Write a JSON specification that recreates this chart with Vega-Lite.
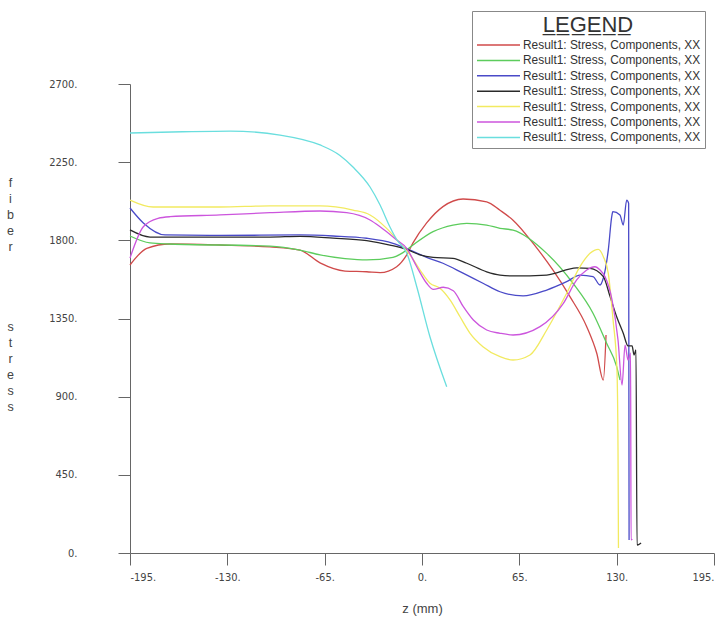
{
  "$schema": "https://vega.github.io/schema/vega-lite/v6.json",
  "width": 584,
  "height": 469,
  "autosize": {"type": "none"},
  "padding": {"left": 130, "top": 84, "right": 14, "bottom": 78},
  "background": "white",
  "config": {"view": {"stroke": null}, "font": "Liberation Sans"},
  "data": {"values": [
    {"series":"s1","z":-195,"stress":1658},{"series":"s1","z":-183.8,"stress":1754},{"series":"s1","z":-168.3,"stress":1779},{"series":"s1","z":-134.9,"stress":1773},{"series":"s1","z":-101.5,"stress":1762},{"series":"s1","z":-81.5,"stress":1744},{"series":"s1","z":-68.1,"stress":1670},{"series":"s1","z":-51.4,"stress":1623},{"series":"s1","z":-36.9,"stress":1619},{"series":"s1","z":-28,"stress":1614},{"series":"s1","z":-16.9,"stress":1648},{"series":"s1","z":-10.2,"stress":1716},{"series":"s1","z":-6,"stress":1785},{"series":"s1","z":3.1,"stress":1900},{"series":"s1","z":14,"stress":1994},{"series":"s1","z":27.4,"stress":2038},{"series":"s1","z":43.2,"stress":2022},{"series":"s1","z":52.1,"stress":1973},{"series":"s1","z":60.8,"stress":1916},{"series":"s1","z":74.1,"stress":1784},{"series":"s1","z":87.5,"stress":1628},{"series":"s1","z":98.8,"stress":1476},{"series":"s1","z":110,"stress":1303},{"series":"s1","z":116.7,"stress":1150},{"series":"s1","z":121.1,"stress":996},{"series":"s1","z":122.9,"stress":1255},
    {"series":"s2","z":-195,"stress":1825},{"series":"s2","z":-181.6,"stress":1785},{"series":"s2","z":-168.3,"stress":1779},{"series":"s2","z":-101.5,"stress":1767},{"series":"s2","z":-81.5,"stress":1744},{"series":"s2","z":-68.1,"stress":1716},{"series":"s2","z":-51.4,"stress":1695},{"series":"s2","z":-36.9,"stress":1687},{"series":"s2","z":-19.4,"stress":1702},{"series":"s2","z":-12.7,"stress":1729},{"series":"s2","z":-6,"stress":1773},{"series":"s2","z":7.4,"stress":1850},{"series":"s2","z":20.7,"stress":1888},{"series":"s2","z":29.9,"stress":1898},{"series":"s2","z":43.2,"stress":1888},{"series":"s2","z":52.1,"stress":1869},{"series":"s2","z":60.8,"stress":1859},{"series":"s2","z":83.3,"stress":1725},{"series":"s2","z":100.8,"stress":1553},{"series":"s2","z":114.2,"stress":1380},{"series":"s2","z":123.3,"stress":1207},{"series":"s2","z":130,"stress":1073},{"series":"s2","z":132.2,"stress":996},
    {"series":"s3","z":-195,"stress":1986},{"series":"s3","z":-186.1,"stress":1900},{"series":"s3","z":-171.6,"stress":1831},{"series":"s3","z":-134.9,"stress":1828},{"series":"s3","z":-81.5,"stress":1831},{"series":"s3","z":-59.4,"stress":1825},{"series":"s3","z":-36.9,"stress":1812},{"series":"s3","z":-19.4,"stress":1783},{"series":"s3","z":-8,"stress":1744},{"series":"s3","z":3.1,"stress":1702},{"series":"s3","z":14,"stress":1668},{"series":"s3","z":27.4,"stress":1611},{"series":"s3","z":40.7,"stress":1553},{"series":"s3","z":52.1,"stress":1504},{"series":"s3","z":67.5,"stress":1480},{"series":"s3","z":83.3,"stress":1514},{"series":"s3","z":96.6,"stress":1562},{"series":"s3","z":105.5,"stress":1600},{"series":"s3","z":114.2,"stress":1591},{"series":"s3","z":118.9,"stress":1543},{"series":"s3","z":121.1,"stress":1583},{"series":"s3","z":124.4,"stress":1744},{"series":"s3","z":126.7,"stress":1936},{"series":"s3","z":127.4,"stress":1965},{"series":"s3","z":132.2,"stress":1946},{"series":"s3","z":134.4,"stress":1888},{"series":"s3","z":136.7,"stress":2032},{"series":"s3","z":138,"stress":2013},{"series":"s3","z":138.3,"stress":75},
    {"series":"s4","z":-195,"stress":1860},{"series":"s4","z":-181.6,"stress":1819},{"series":"s4","z":-134.9,"stress":1819},{"series":"s4","z":-101.5,"stress":1819},{"series":"s4","z":-81.5,"stress":1823},{"series":"s4","z":-59.4,"stress":1813},{"series":"s4","z":-36.9,"stress":1798},{"series":"s4","z":-21.4,"stress":1773},{"series":"s4","z":-10.2,"stress":1748},{"series":"s4","z":-1.3,"stress":1716},{"series":"s4","z":7.4,"stress":1702},{"series":"s4","z":20.7,"stress":1696},{"series":"s4","z":29.9,"stress":1668},{"series":"s4","z":43.2,"stress":1619},{"series":"s4","z":52.1,"stress":1600},{"series":"s4","z":60.8,"stress":1595},{"series":"s4","z":83.3,"stress":1600},{"series":"s4","z":103.3,"stress":1642},{"series":"s4","z":112.2,"stress":1639},{"series":"s4","z":121.1,"stress":1591},{"series":"s4","z":125.6,"stress":1476},{"series":"s4","z":130,"stress":1360},{"series":"s4","z":134.4,"stress":1265},{"series":"s4","z":137.6,"stress":1192},{"series":"s4","z":140.3,"stress":1192},{"series":"s4","z":141.6,"stress":1140},{"series":"s4","z":142.9,"stress":1169},{"series":"s4","z":143.6,"stress":46},{"series":"s4","z":146.3,"stress":58},
    {"series":"s5","z":-195,"stress":2032},{"series":"s5","z":-179.6,"stress":1992},{"series":"s5","z":-134.9,"stress":1992},{"series":"s5","z":-101.5,"stress":1998},{"series":"s5","z":-68.1,"stress":1998},{"series":"s5","z":-46.1,"stress":1974},{"series":"s5","z":-34.7,"stress":1946},{"series":"s5","z":-23.6,"stress":1869},{"series":"s5","z":-14.7,"stress":1784},{"series":"s5","z":-8,"stress":1716},{"series":"s5","z":-1.3,"stress":1629},{"series":"s5","z":5.3,"stress":1553},{"series":"s5","z":12,"stress":1524},{"series":"s5","z":18.7,"stress":1457},{"series":"s5","z":25.4,"stress":1360},{"series":"s5","z":32.1,"stress":1265},{"series":"s5","z":40.7,"stress":1188},{"series":"s5","z":52.1,"stress":1130},{"series":"s5","z":60.8,"stress":1111},{"series":"s5","z":72.1,"stress":1140},{"series":"s5","z":83.3,"stress":1284},{"series":"s5","z":96.6,"stress":1495},{"series":"s5","z":105.5,"stress":1649},{"series":"s5","z":112.2,"stress":1725},{"series":"s5","z":117.7,"stress":1748},{"series":"s5","z":121.1,"stress":1706},{"series":"s5","z":124.4,"stress":1610},{"series":"s5","z":127.6,"stress":1341},{"series":"s5","z":130.2,"stress":1054},{"series":"s5","z":130.9,"stress":593},{"series":"s5","z":131.2,"stress":29},
    {"series":"s6","z":-195,"stress":1698},{"series":"s6","z":-186.1,"stress":1878},{"series":"s6","z":-176.3,"stress":1927},{"series":"s6","z":-168.3,"stress":1936},{"series":"s6","z":-134.9,"stress":1946},{"series":"s6","z":-101.5,"stress":1959},{"series":"s6","z":-68.1,"stress":1969},{"series":"s6","z":-50.3,"stress":1959},{"series":"s6","z":-34.7,"stress":1917},{"series":"s6","z":-28,"stress":1878},{"series":"s6","z":-16.9,"stress":1802},{"series":"s6","z":-10.2,"stress":1754},{"series":"s6","z":-3.5,"stress":1648},{"series":"s6","z":3.1,"stress":1553},{"series":"s6","z":7.6,"stress":1518},{"series":"s6","z":14.2,"stress":1530},{"series":"s6","z":20.9,"stress":1510},{"series":"s6","z":27.6,"stress":1418},{"series":"s6","z":34.3,"stress":1341},{"series":"s6","z":43.2,"stress":1284},{"series":"s6","z":52.1,"stress":1265},{"series":"s6","z":60.8,"stress":1255},{"series":"s6","z":78.8,"stress":1303},{"series":"s6","z":94.4,"stress":1437},{"series":"s6","z":103.3,"stress":1572},{"series":"s6","z":110,"stress":1629},{"series":"s6","z":115.5,"stress":1648},{"series":"s6","z":118.9,"stress":1629},{"series":"s6","z":122.2,"stress":1591},{"series":"s6","z":126.9,"stress":1457},{"series":"s6","z":130.9,"stress":1226},{"series":"s6","z":133.6,"stress":967},{"series":"s6","z":135.6,"stress":1197},{"series":"s6","z":137.6,"stress":1111},{"series":"s6","z":139.3,"stress":1150},{"series":"s6","z":139.6,"stress":75},{"series":"s6","z":140.5,"stress":80},
    {"series":"s7","z":-195,"stress":2418},{"series":"s7","z":-160,"stress":2425},{"series":"s7","z":-128,"stress":2429},{"series":"s7","z":-94.8,"stress":2406},{"series":"s7","z":-68.1,"stress":2349},{"series":"s7","z":-55,"stress":2290},{"series":"s7","z":-46.1,"stress":2222},{"series":"s7","z":-34.7,"stress":2107},{"series":"s7","z":-28,"stress":2003},{"series":"s7","z":-21.4,"stress":1877},{"series":"s7","z":-16.7,"stress":1802},{"series":"s7","z":-10.2,"stress":1727},{"series":"s7","z":-3.5,"stress":1533},{"series":"s7","z":5.3,"stress":1245},{"series":"s7","z":16.5,"stress":957}
  ]},
  "mark": {"type": "line", "strokeWidth": 1.3, "interpolate": "monotone"},
  "encoding": {
    "x": {
      "field": "z", "type": "quantitative",
      "scale": {"domain": [-195, 195], "nice": false, "zero": false},
      "axis": {
        "values": [-195, -130, -65, 0, 65, 130, 195],
        "labelExpr": "datum.value + '.'",
        "title": "z (mm)",
        "grid": false,
        "domainColor": "#666", "tickColor": "#666", "tickSize": 12,
        "labelPadding": 6, "labelFontSize": 11, "labelColor": "#444", "labelFont": "DejaVu Sans Condensed, Liberation Sans",
        "titleFontSize": 13, "titleFontWeight": "normal", "titleColor": "#444", "titlePadding": 20
      }
    },
    "y": {
      "field": "stress", "type": "quantitative",
      "scale": {"domain": [0, 2700], "nice": false, "zero": true},
      "axis": {
        "values": [0, 450, 900, 1350, 1800, 2250, 2700],
        "labelExpr": "datum.value + '.'",
        "title": ["f", "i", "b", "e", "r", "\u2800", "\u2800", "\u2800", "\u2800", "s", "t", "r", "e", "s", "s"],
        "grid": false,
        "domainColor": "#666", "tickColor": "#666", "tickSize": 12,
        "labelPadding": 41, "labelFontSize": 11, "labelColor": "#444", "labelFont": "DejaVu Sans Condensed, Liberation Sans",
        "titleAngle": 0, "titleAlign": "center", "titleBaseline": "middle", "titleLineHeight": 16,
        "titleX": -120, "titleY": 98,
        "titleFontSize": 12.5, "titleFontWeight": "normal", "titleColor": "#444"
      }
    },
    "color": {
      "field": "series", "type": "nominal",
      "scale": {
        "domain": ["s1", "s2", "s3", "s4", "s5", "s6", "s7"],
        "range": ["#d04a4a", "#5ccc5c", "#4a4ac8", "#2a2a2a", "#f2ea60", "#cc55dd", "#6adede"]
      },
      "legend": {
        "orient": "none", "legendX": 342, "legendY": -73,
        "title": "L̲E̲G̲E̲N̲D̲",
        "titleFontSize": 22, "titleFontWeight": "normal", "titleAnchor": "middle", "titleColor": "#333", "titleFont": "Liberation Sans",
        "titlePadding": 2,
        "labelExpr": "'Result1: Stress, Components, XX'",
        "labelFontSize": 11.9, "labelColor": "#333", "labelLimit": 400, "labelOffset": 35,
        "symbolType": "M-1,0H7.6", "symbolSize": 100, "symbolStrokeWidth": 1.5,
        "rowPadding": 3.4,
        "fillColor": "white", "strokeColor": "#888", "padding": 4
      }
    }
  }
}
